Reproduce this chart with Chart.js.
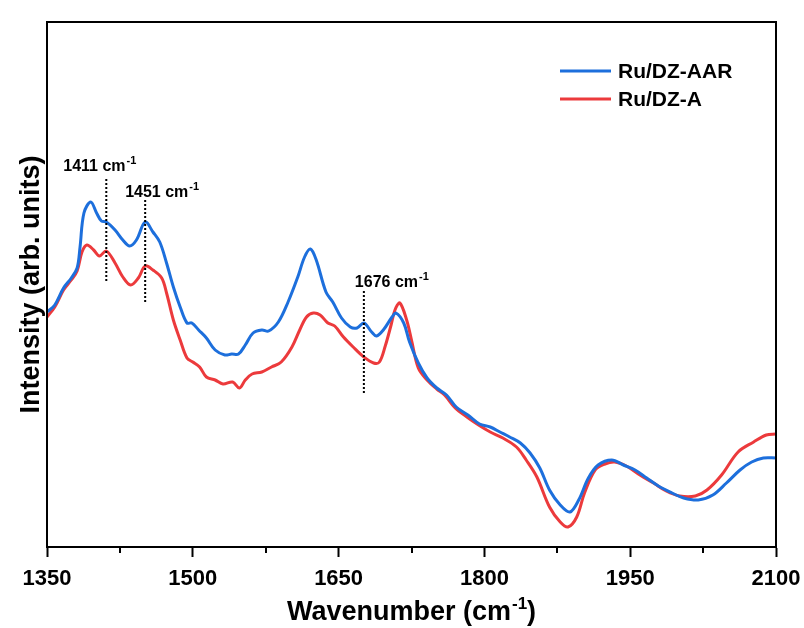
<!DOCTYPE html>
<html>
<head>
<meta charset="utf-8">
<script src="https://cdn.jsdelivr.net/npm/chart.js@4.4.0/dist/chart.umd.min.js"></script>
<style>
  html, body { margin: 0; padding: 0; background: #fff; }
  #wrap { width: 804px; height: 628px; }
</style>
</head>
<body>
<div id="wrap"><canvas id="ftirChart" width="804" height="628"></canvas></div>
<script>
// Ru/DZ-AAR spectrum (wavenumber, intensity in arb. units)
const wnAAR = [1350, 1358, 1367, 1375, 1381, 1384, 1388, 1395, 1401, 1406, 1411,
  1420, 1428, 1435, 1442, 1451, 1459, 1466, 1473, 1480, 1487, 1494, 1499, 1506,
  1514, 1523, 1533, 1540, 1547, 1554, 1562, 1571, 1578, 1588, 1598, 1608, 1615,
  1621, 1627, 1637, 1644, 1653, 1662, 1669, 1676, 1684, 1689, 1696, 1705, 1709,
  1717, 1723, 1732, 1741, 1751, 1761, 1771, 1783, 1795, 1806, 1816, 1826, 1837,
  1847, 1857, 1867, 1878, 1888, 1897, 1907, 1917, 1931, 1943, 1955, 1967, 1979,
  1993, 2005, 2020, 2035, 2049, 2063, 2075, 2087, 2100];
const intAAR = [235, 242, 259, 269, 279, 300, 334, 345, 334, 326, 325,
  317, 307, 301, 307, 325, 315, 305, 284, 260, 240, 224, 224, 217,
  209, 197, 192, 193, 193, 202, 214, 217, 216, 225, 245, 270, 290,
  298, 287, 255, 245, 229, 220, 219, 224, 215, 211, 217, 230, 234,
  224, 205, 184, 169, 159, 152, 140, 132, 123, 120, 115, 110, 104,
  94, 79, 57, 42, 35, 47, 69, 82, 87, 82, 77, 69, 61,
  54, 49, 47, 52, 64, 77, 85, 89, 89];

// Ru/DZ-A spectrum
const wnA = [1350, 1358, 1367, 1375, 1381, 1386, 1391, 1398, 1404, 1411,
  1420, 1428, 1436, 1444, 1451, 1459, 1468, 1473, 1480, 1487, 1494, 1500, 1507,
  1514, 1523, 1531, 1541, 1548, 1554, 1561, 1571, 1581, 1591, 1602, 1610, 1617,
  1624, 1631, 1639, 1646, 1655, 1665, 1676, 1686, 1692, 1698, 1704, 1708, 1713,
  1720, 1725, 1732, 1741, 1751, 1759, 1770, 1782, 1794, 1806, 1819, 1833, 1843,
  1854, 1867, 1878, 1886, 1895, 1903, 1914, 1924, 1934, 1946, 1960, 1974, 1987,
  2001, 2017, 2029, 2044, 2061, 2077, 2090, 2100];
const intA = [230, 240, 257, 267, 276, 295, 302, 297, 291, 296,
  284, 270, 262, 269, 281, 277, 269, 254, 227, 207, 189, 185, 180,
  170, 167, 163, 165, 159, 167, 173, 175, 180, 185, 200, 217, 230,
  234, 232, 224, 221, 210, 200, 190, 184, 185, 201, 222, 237, 244,
  227, 207, 179, 167, 158, 152, 139, 130, 122, 115, 109, 100, 87,
  70, 40, 25, 20, 30, 54, 77, 83, 85, 81, 72, 64, 56,
  51, 51, 57, 72, 95, 105, 112, 113];

const xMajorTicks = [1350, 1500, 1650, 1800, 1950, 2100];
const xMinorTicks = [1425, 1575, 1725, 1875, 2025];

// marked bands: position, dotted line from/to (intensity units)
const peakPos = [1411, 1451, 1676];
const peakTop = [368, 347, 256];
const peakBottom = [264, 243, 152];

const FONT = "'Liberation Sans', Arial, Helvetica, sans-serif";

function toPoints(xs, ys) {
  return xs.map((x, i) => ({ x: x, y: ys[i] }));
}

// superscript text helper
function drawSup(ctx, base, sup, x, y, size, supSize, align) {
  ctx.font = "bold " + size + "px " + FONT;
  const w1 = ctx.measureText(base).width;
  ctx.font = "bold " + supSize + "px " + FONT;
  const w2 = ctx.measureText(sup).width;
  let start = x;
  if (align === "center") start = x - (w1 + w2) / 2;
  ctx.font = "bold " + size + "px " + FONT;
  ctx.fillText(base, start, y);
  ctx.font = "bold " + supSize + "px " + FONT;
  ctx.fillText(sup, start + w1 + 1, y - size * 0.42);
  return start + w1 + w2 + 1;
}

const extras = {
  id: "extras",
  afterDraw(chart) {
    const ctx = chart.ctx;
    const area = chart.chartArea;
    const xs = chart.scales.x;
    const ys = chart.scales.y;
    ctx.save();
    ctx.fillStyle = "#000";
    ctx.strokeStyle = "#000";

    // frame
    ctx.lineWidth = 2;
    ctx.strokeRect(area.left, area.top, area.right - area.left, area.bottom - area.top);

    // minor ticks
    xMinorTicks.forEach((v) => {
      const px = Math.round(xs.getPixelForValue(v));
      ctx.beginPath();
      ctx.moveTo(px, area.bottom);
      ctx.lineTo(px, area.bottom + 6);
      ctx.stroke();
    });

    // x title with superscript
    ctx.textBaseline = "alphabetic";
    ctx.textAlign = "left";
    const end = drawSup(ctx, "Wavenumber (cm", "-1", (area.left + area.right) / 2 - 5, 620, 27, 17, "center");
    ctx.font = "bold 27px " + FONT;
    ctx.fillText(")", end, 620);

    // peak markers
    ctx.lineWidth = 2;
    ctx.setLineDash([2, 2]);
    peakPos.forEach((p, i) => {
      const px = xs.getPixelForValue(p);
      ctx.beginPath();
      ctx.moveTo(px, ys.getPixelForValue(peakTop[i]));
      ctx.lineTo(px, ys.getPixelForValue(peakBottom[i]));
      ctx.stroke();
    });
    ctx.setLineDash([]);
    const labelDx = [-43, -20, -9];
    const labelDy = [-8, -3, -4];
    peakPos.forEach((p, i) => {
      const px = xs.getPixelForValue(p);
      const py = ys.getPixelForValue(peakTop[i]);
      drawSup(ctx, p + " cm", "-1", px + labelDx[i], py + labelDy[i], 16, 11, "left");
    });

    // legend
    ctx.lineWidth = 3;
    chart.data.datasets.forEach((ds, i) => {
      const y = 71 + i * 28;
      ctx.strokeStyle = ds.borderColor;
      ctx.beginPath();
      ctx.moveTo(560, y);
      ctx.lineTo(611, y);
      ctx.stroke();
      ctx.fillStyle = "#000";
      ctx.font = "bold 21px " + FONT;
      ctx.textBaseline = "middle";
      ctx.fillText(ds.label, 618, y + 1);
    });
    ctx.restore();
  }
};

new Chart(document.getElementById("ftirChart"), {
  type: "line",
  data: {
    datasets: [
      {
        label: "Ru/DZ-AAR",
        data: toPoints(wnAAR, intAAR),
        borderColor: "#1d6fdc",
        borderWidth: 3,
        pointRadius: 0,
        tension: 0.35,
        fill: false,
      },
      {
        label: "Ru/DZ-A",
        data: toPoints(wnA, intA),
        borderColor: "#ec3a3c",
        borderWidth: 3,
        pointRadius: 0,
        tension: 0.35,
        fill: false,
      },
    ],
  },
  options: {
    responsive: false,
    animation: false,
    devicePixelRatio: 1,
    layout: { padding: { top: 22, right: 28, left: 0, bottom: 0 } },
    plugins: { legend: { display: false }, tooltip: { enabled: false } },
    scales: {
      x: {
        type: "linear",
        min: 1350,
        max: 2100,
        afterBuildTicks: (s) => { s.ticks = xMajorTicks.map((v) => ({ value: v })); },
        afterFit: (s) => { s.height = 81; s.paddingLeft = 0; s.paddingRight = 0; },
        ticks: {
          color: "#000",
          font: { family: FONT, size: 22, weight: "bold" },
          padding: 9,
          maxRotation: 0,
          autoSkip: false,
          callback: (v) => String(v),
        },
        grid: {
          display: true,
          drawOnChartArea: false,
          drawTicks: true,
          tickLength: 10,
          tickWidth: 2,
          tickColor: "#000",
        },
        border: { display: true, color: "#000", width: 2 },
      },
      y: {
        min: 0,
        max: 525,
        afterFit: (s) => { s.width = 47; },
        ticks: { display: false },
        grid: { display: false },
        border: { display: true, color: "#000", width: 2 },
        title: {
          display: true,
          text: "Intensity (arb. units)",
          color: "#000",
          font: { family: FONT, size: 27, weight: "bold" },
          padding: { top: 15, bottom: 0 },
        },
      },
    },
  },
  plugins: [extras],
});
</script>
</body>
</html>
